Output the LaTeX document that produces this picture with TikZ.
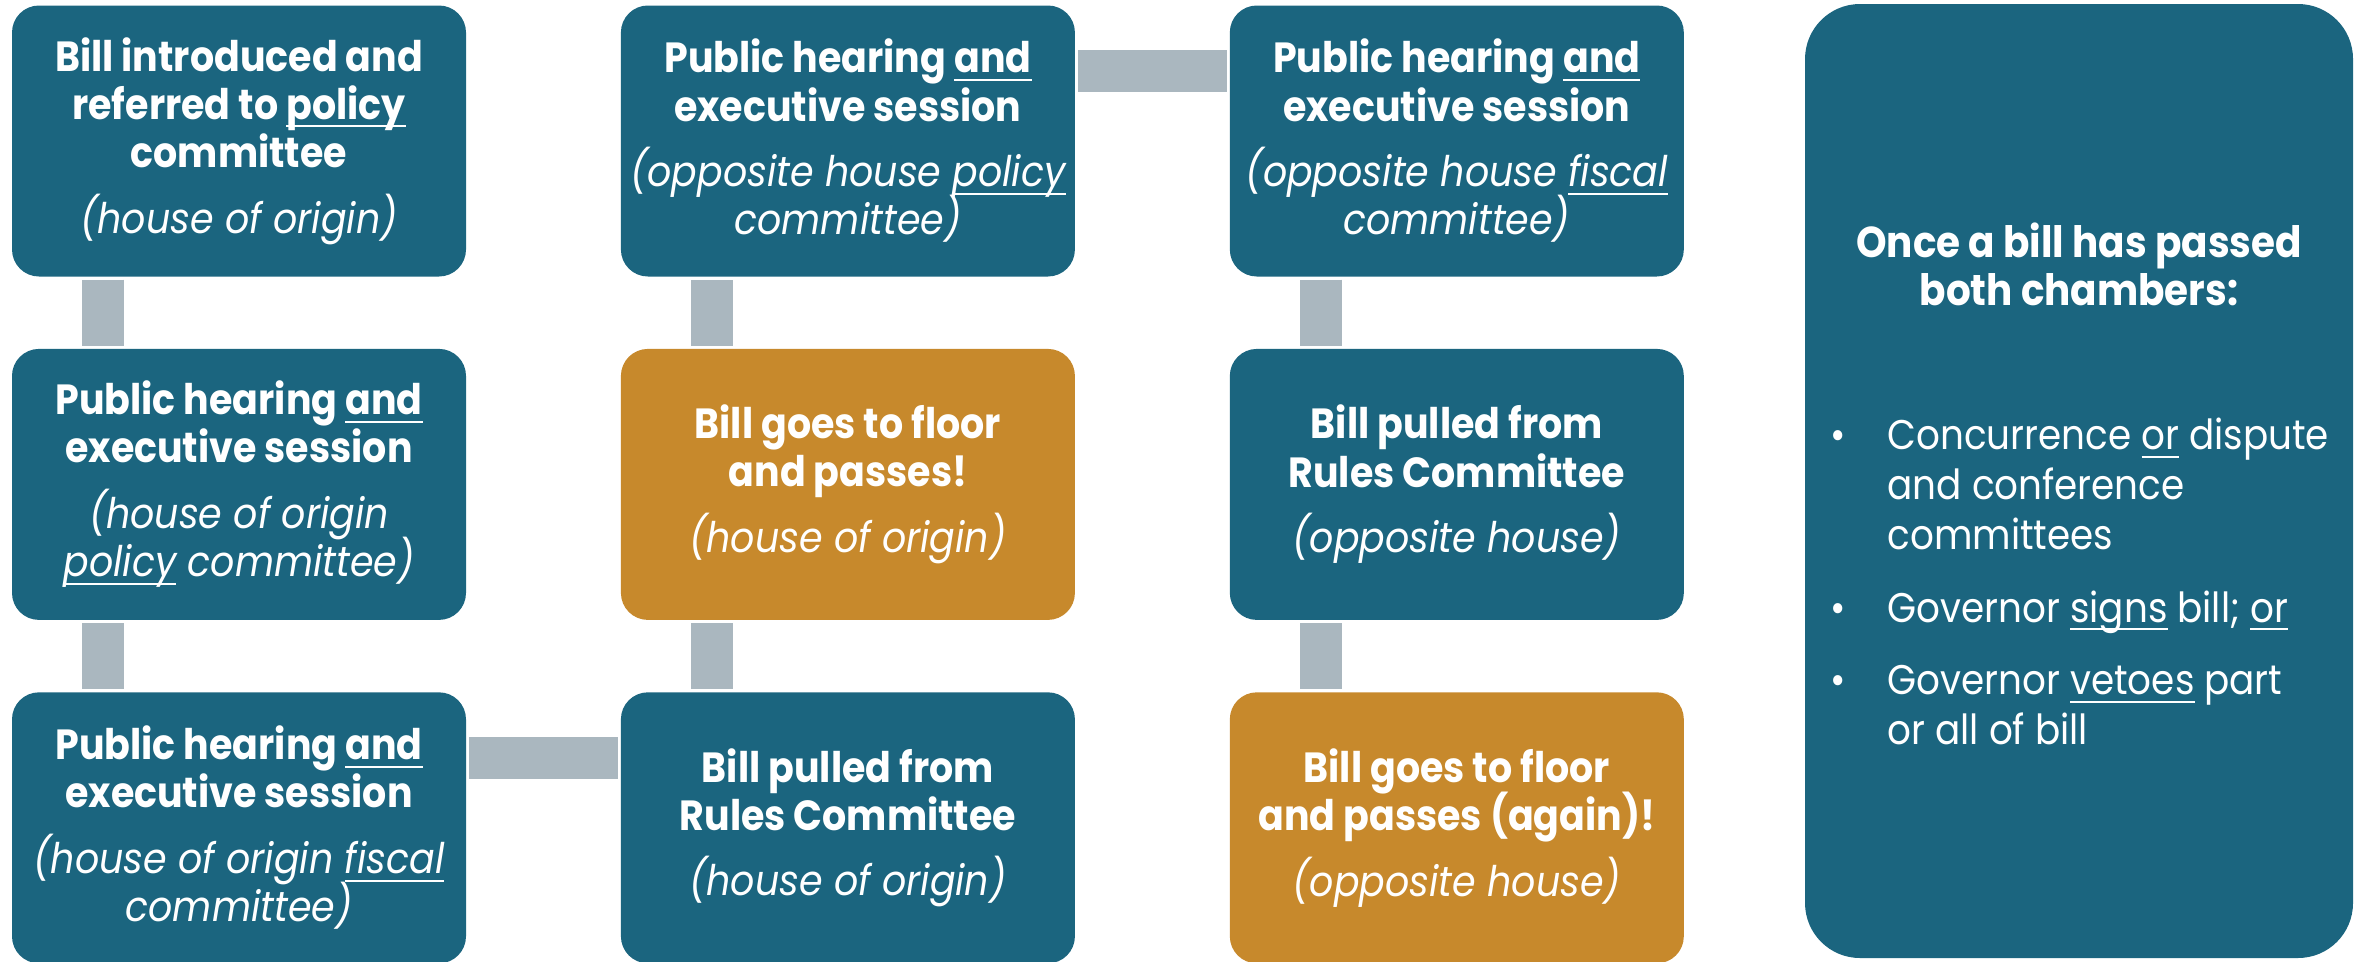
\documentclass[tikz,border=0pt]{standalone}
\usepackage{fontspec}
\setmainfont{Poppins}[FakeStretch=0.9]
\usetikzlibrary{positioning}
\definecolor{billteal}{HTML}{1B657F}
\definecolor{billgold}{HTML}{C7892C}
\definecolor{linkgray}{HTML}{AAB7BF}
\newcommand{\billul}[1]{\setbox0\hbox{#1}\rlap{\rule[-2.3pt]{\wd0}{0.6pt}}\box0\relax}
\newcommand{\stagefont}{\fontsize{12}{13.7}\selectfont\lineskiplimit=-10pt\relax}
\begin{document}
\begin{tikzpicture}[
	stage/.style={rectangle, rounded corners=0.27cm, fill=billteal, text=white,
		minimum width=4.54cm, minimum height=2.71cm, inner sep=0pt, align=center,
		font=\stagefont},
	passbox/.style={stage, fill=billgold},
	link/.style={draw=linkgray, line width=0.42cm, shorten <=0.025cm, shorten >=0.025cm},
	node distance=0.71cm and 1.535cm]
		\useasboundingbox (0,0) rectangle (23.59,-9.61);
		
		\node [stage] (a1) at (2.39,-1.41) {\textbf{Bill introduced and}\\\textbf{referred to \billul{policy}}\\\textbf{committee}\\[5pt]\textit{(house of origin)}};
		\node [stage, below=of a1] (a2) {\textbf{Public hearing \billul{and}}\\\textbf{executive session}\\[5pt]\textit{(house of origin}\\\textit{\billul{policy} committee)}};
		\node [stage, below=of a2] (a3) {\textbf{Public hearing \billul{and}}\\\textbf{executive session}\\[5pt]\textit{(house of origin \billul{fiscal}}\\\textit{committee)}};
		
		\node [stage, right=of a1] (b1) {\textbf{Public hearing \billul{and}}\\\textbf{executive session}\\[5pt]\textit{(opposite house \billul{policy}}\\\textit{committee)}};
		\node [passbox, below=of b1] (b2) {\textbf{Bill goes to floor}\\\textbf{and passes!}\\[5pt]\textit{(house of origin)}};
		\node [stage, below=of b2] (b3) {\textbf{Bill pulled from}\\\textbf{Rules Committee}\\[5pt]\textit{(house of origin)}};
		
		\node [stage, right=of b1] (c1) {\textbf{Public hearing \billul{and}}\\\textbf{executive session}\\[5pt]\textit{(opposite house \billul{fiscal}}\\\textit{committee)}};
		\node [stage, below=of c1] (c2) {\textbf{Bill pulled from}\\\textbf{Rules Committee}\\[5pt]\textit{(opposite house)}};
		\node [passbox, below=of c2] (c3) {\textbf{Bill goes to floor}\\\textbf{and passes (again)!}\\[5pt]\textit{(opposite house)}};
		
		\draw [link] ([xshift=-1.36cm]a1.south) -- ([xshift=-1.36cm]a2.north);
		\draw [link] ([xshift=-1.36cm]a2.south) -- ([xshift=-1.36cm]a3.north);
		\draw [link] ([yshift=-0.66cm]a3.north east) -- ([yshift=-0.66cm]b3.north west);
		\draw [link] ([xshift=-1.36cm]b3.north) -- ([xshift=-1.36cm]b2.south);
		\draw [link] ([xshift=-1.36cm]b2.north) -- ([xshift=-1.36cm]b1.south);
		\draw [link] ([yshift=-0.66cm]b1.north east) -- ([yshift=-0.66cm]c1.north west);
		\draw [link] ([xshift=-1.36cm]c1.south) -- ([xshift=-1.36cm]c2.north);
		\draw [link] ([xshift=-1.36cm]c2.south) -- ([xshift=-1.36cm]c3.north);
		
		\node [stage, rounded corners=0.55cm, minimum width=5.48cm, minimum height=9.54cm] (after) at (20.79,-4.81) {};
		\node [text=white, align=center, font=\fontsize{12.3}{13.7}\selectfont\bfseries] (afterhead) at (20.79,-2.64) {Once a bill has passed\\both chambers:};
		\node [text=white, anchor=north west, inner sep=0pt, font=\fontsize{11.8}{14.2}\selectfont] (afterlist) at (18.30,-4.14) {%
			\begin{tabular}{@{}p{0.57cm}@{}l@{}}
			\textbullet & Concurrence \billul{or} dispute\\
			& and conference\\
			& committees\\[6.5pt]
			\textbullet & Governor \billul{signs} bill; \billul{or}\\[6.5pt]
			\textbullet & Governor \billul{vetoes} part\\
			& or all of bill
			\end{tabular}};
	\end{tikzpicture}
\end{document}
